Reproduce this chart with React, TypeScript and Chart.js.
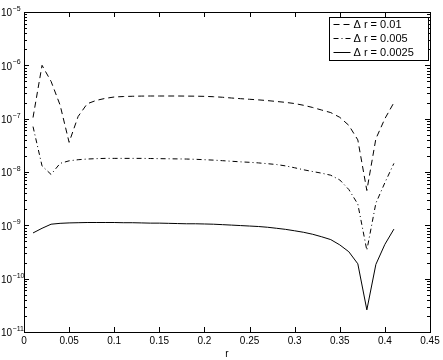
import React, { useEffect, useRef } from "react";
import { Chart, registerables } from "chart.js";

Chart.register(...registerables);

const rValues = [
  0.01, 0.02, 0.03, 0.04, 0.05, 0.06, 0.07, 0.08, 0.09, 0.10,
  0.11, 0.12, 0.13, 0.14, 0.15, 0.16, 0.17, 0.18, 0.19, 0.20,
  0.21, 0.22, 0.23, 0.24, 0.25, 0.26, 0.27, 0.28, 0.29, 0.30,
  0.31, 0.32, 0.33, 0.34, 0.35, 0.36, 0.37, 0.38, 0.39, 0.40, 0.41,
];

const errDr01 = [
  1.05e-7, 1.0e-6, 5.0e-7, 1.8e-7, 3.6e-8, 1.1e-7, 1.9e-7, 2.2e-7, 2.4e-7, 2.55e-7,
  2.6e-7, 2.63e-7, 2.65e-7, 2.66e-7, 2.66e-7, 2.66e-7, 2.66e-7, 2.65e-7, 2.64e-7, 2.62e-7,
  2.58e-7, 2.52e-7, 2.44e-7, 2.37e-7, 2.31e-7, 2.25e-7, 2.18e-7, 2.1e-7, 2.02e-7, 1.92e-7,
  1.78e-7, 1.62e-7, 1.45e-7, 1.3e-7, 1.06e-7, 7.5e-8, 4.0e-8, 4.5e-9, 4.2e-8, 1.0e-7, 2.0e-7,
];

const errDr005 = [
  7.1e-8, 1.3e-8, 9.0e-9, 1.45e-8, 1.62e-8, 1.7e-8, 1.75e-8, 1.78e-8, 1.8e-8, 1.8e-8,
  1.8e-8, 1.8e-8, 1.8e-8, 1.79e-8, 1.78e-8, 1.77e-8, 1.76e-8, 1.75e-8, 1.73e-8, 1.7e-8,
  1.67e-8, 1.63e-8, 1.59e-8, 1.55e-8, 1.52e-8, 1.48e-8, 1.43e-8, 1.38e-8, 1.3e-8, 1.2e-8,
  1.1e-8, 1.02e-8, 9.5e-9, 8.7e-9, 7.1e-9, 4.7e-9, 2.5e-9, 3.4e-10, 2.6e-9, 6.3e-9, 1.45e-8,
];

const errDr0025 = [
  7.2e-10, 8.8e-10, 1.05e-9, 1.09e-9, 1.11e-9, 1.12e-9, 1.13e-9, 1.13e-9, 1.13e-9, 1.13e-9,
  1.12e-9, 1.12e-9, 1.11e-9, 1.1e-9, 1.1e-9, 1.09e-9, 1.08e-9, 1.07e-9, 1.07e-9, 1.06e-9,
  1.05e-9, 1.03e-9, 1.01e-9, 9.9e-10, 9.7e-10, 9.5e-10, 9.2e-10, 8.8e-10, 8.4e-10, 7.9e-10,
  7.4e-10, 6.8e-10, 6.1e-10, 5.4e-10, 4.3e-10, 3.2e-10, 1.9e-10, 2.6e-11, 1.85e-10, 4.4e-10, 8.5e-10,
];

const seriesLabels = ["\u0394 r = 0.01", "\u0394 r = 0.005", "\u0394 r = 0.0025"];
const seriesDashes = [[6, 4], [5, 3, 1, 3], []];

const xTicks = [0, 0.05, 0.1, 0.15, 0.2, 0.25, 0.3, 0.35, 0.4, 0.45];
const xTickLabels = ["0", "0.05", "0.1", "0.15", "0.2", "0.25", "0.3", "0.35", "0.4", "0.45"];
const yTicks = [1e-11, 1e-10, 1e-9, 1e-8, 1e-7, 1e-6, 1e-5];
const yTickBase = "10";
const yTickExponents = ["\u221211", "\u221210", "\u22129", "\u22128", "\u22127", "\u22126", "\u22125"];
const xTitle = "r";

const FONT = "'Liberation Sans', Arial, Helvetica, sans-serif";

const framePlugin = {
  id: "framePlugin",
  afterDatasetsDraw(chart: any) {
    const { ctx, chartArea } = chart;
    const { left, right, top, bottom } = chartArea;
    const xs = chart.scales.x;
    const ys = chart.scales.y;
    ctx.save();
    ctx.strokeStyle = "#000";
    ctx.lineWidth = 1;
    ctx.setLineDash([]);
    ctx.beginPath();
    xTicks.forEach((v) => {
      const px = Math.round(xs.getPixelForValue(v)) + 0.5;
      ctx.moveTo(px, bottom);
      ctx.lineTo(px, bottom - 5);
      ctx.moveTo(px, top);
      ctx.lineTo(px, top + 5);
    });
    for (let k = -11; k <= -5; k++) {
      const base = Math.pow(10, k);
      for (let m = 1; m <= 9; m++) {
        const v = base * m;
        if (v > 1.0001e-5) break;
        const py = Math.round(ys.getPixelForValue(v)) + 0.5;
        const len = m === 1 ? 5 : 3;
        ctx.moveTo(left, py);
        ctx.lineTo(left + len, py);
        ctx.moveTo(right, py);
        ctx.lineTo(right - len, py);
      }
    }
    ctx.stroke();
    ctx.strokeRect(Math.round(left) + 0.5, Math.round(top) + 0.5, Math.round(right - left), Math.round(bottom - top));

    // y tick labels: base "10" with superscript exponent
    ctx.fillStyle = "#000";
    ctx.textAlign = "left";
    ctx.textBaseline = "middle";
    yTicks.forEach((v, i) => {
      const py = ys.getPixelForValue(v);
      ctx.font = `10px ${FONT}`;
      ctx.fillText(yTickBase, 1, py + 1.5);
      const w = ctx.measureText(yTickBase).width;
      ctx.font = `7px ${FONT}`;
      ctx.fillText(yTickExponents[i], 1 + w + 0.5, py - 3);
    });
    ctx.restore();
  },
};

const legendPlugin = {
  id: "boxLegend",
  afterDraw(chart: any) {
    const { ctx } = chart;
    const bx = 329.5;
    const by = 17.5;
    const bw = 99;
    const bh = 43;
    ctx.save();
    ctx.fillStyle = "#fff";
    ctx.fillRect(bx, by, bw, bh);
    ctx.strokeStyle = "#000";
    ctx.lineWidth = 1;
    ctx.setLineDash([]);
    ctx.strokeRect(bx, by, bw, bh);
    ctx.font = `11px ${FONT}`;
    ctx.fillStyle = "#000";
    ctx.textBaseline = "middle";
    ctx.textAlign = "left";
    seriesLabels.forEach((lab, i) => {
      const y = by + 7 + i * 14;
      ctx.setLineDash(seriesDashes[i]);
      ctx.beginPath();
      ctx.moveTo(bx + 4, y);
      ctx.lineTo(bx + 21, y);
      ctx.stroke();
      ctx.setLineDash([]);
      ctx.fillText(lab, bx + 24, y + 0.5);
    });
    ctx.restore();
  },
};

export default function App() {
  const canvasRef = useRef<HTMLCanvasElement | null>(null);

  useEffect(() => {
    document.body.style.margin = "0";
    const canvas = canvasRef.current;
    if (!canvas) return;
    const allSeries = [errDr01, errDr005, errDr0025];
    const chart = new Chart(canvas, {
      type: "line",
      data: {
        datasets: allSeries.map((s, i) => ({
          label: seriesLabels[i],
          data: rValues.map((r, j) => ({ x: r, y: s[j] })),
          borderColor: "#000",
          borderWidth: 1,
          borderDash: seriesDashes[i],
          pointRadius: 0,
          fill: false,
          tension: 0,
        })),
      },
      options: {
        animation: false,
        responsive: false,
        devicePixelRatio: 1,
        layout: { padding: { left: 0, right: 13, top: 12, bottom: 0 } },
        plugins: { legend: { display: false }, tooltip: { enabled: false } },
        scales: {
          x: {
            type: "linear",
            min: 0,
            max: 0.45,
            afterBuildTicks: (s: any) => {
              s.ticks = xTicks.map((v) => ({ value: v }));
            },
            afterFit: (s: any) => {
              s.height = 28;
            },
            ticks: {
              callback: (_v: any, i: number) => xTickLabels[i],
              font: { family: FONT, size: 10 },
              color: "#000",
              padding: 3,
              maxRotation: 0,
              autoSkip: false,
            },
            grid: { display: false, drawTicks: false },
            border: { display: false },
            title: {
              display: true,
              text: xTitle,
              font: { family: FONT, size: 10 },
              color: "#000",
              padding: 0,
            },
          },
          y: {
            type: "logarithmic",
            min: 1e-11,
            max: 1e-5,
            afterBuildTicks: (s: any) => {
              s.ticks = yTicks.map((v) => ({ value: v }));
            },
            afterFit: (s: any) => {
              s.width = 24;
            },
            ticks: { display: false, autoSkip: false },
            grid: { display: false, drawTicks: false },
            border: { display: false },
          },
        },
      } as any,
      plugins: [framePlugin, legendPlugin],
    });
    return () => chart.destroy();
  }, []);

  return (
    <div style={{ position: "absolute", left: 0, top: 0, width: 443, height: 360, background: "#fff" }}>
      <canvas ref={canvasRef} width={443} height={360} style={{ width: 443, height: 360, display: "block" }} />
    </div>
  );
}
